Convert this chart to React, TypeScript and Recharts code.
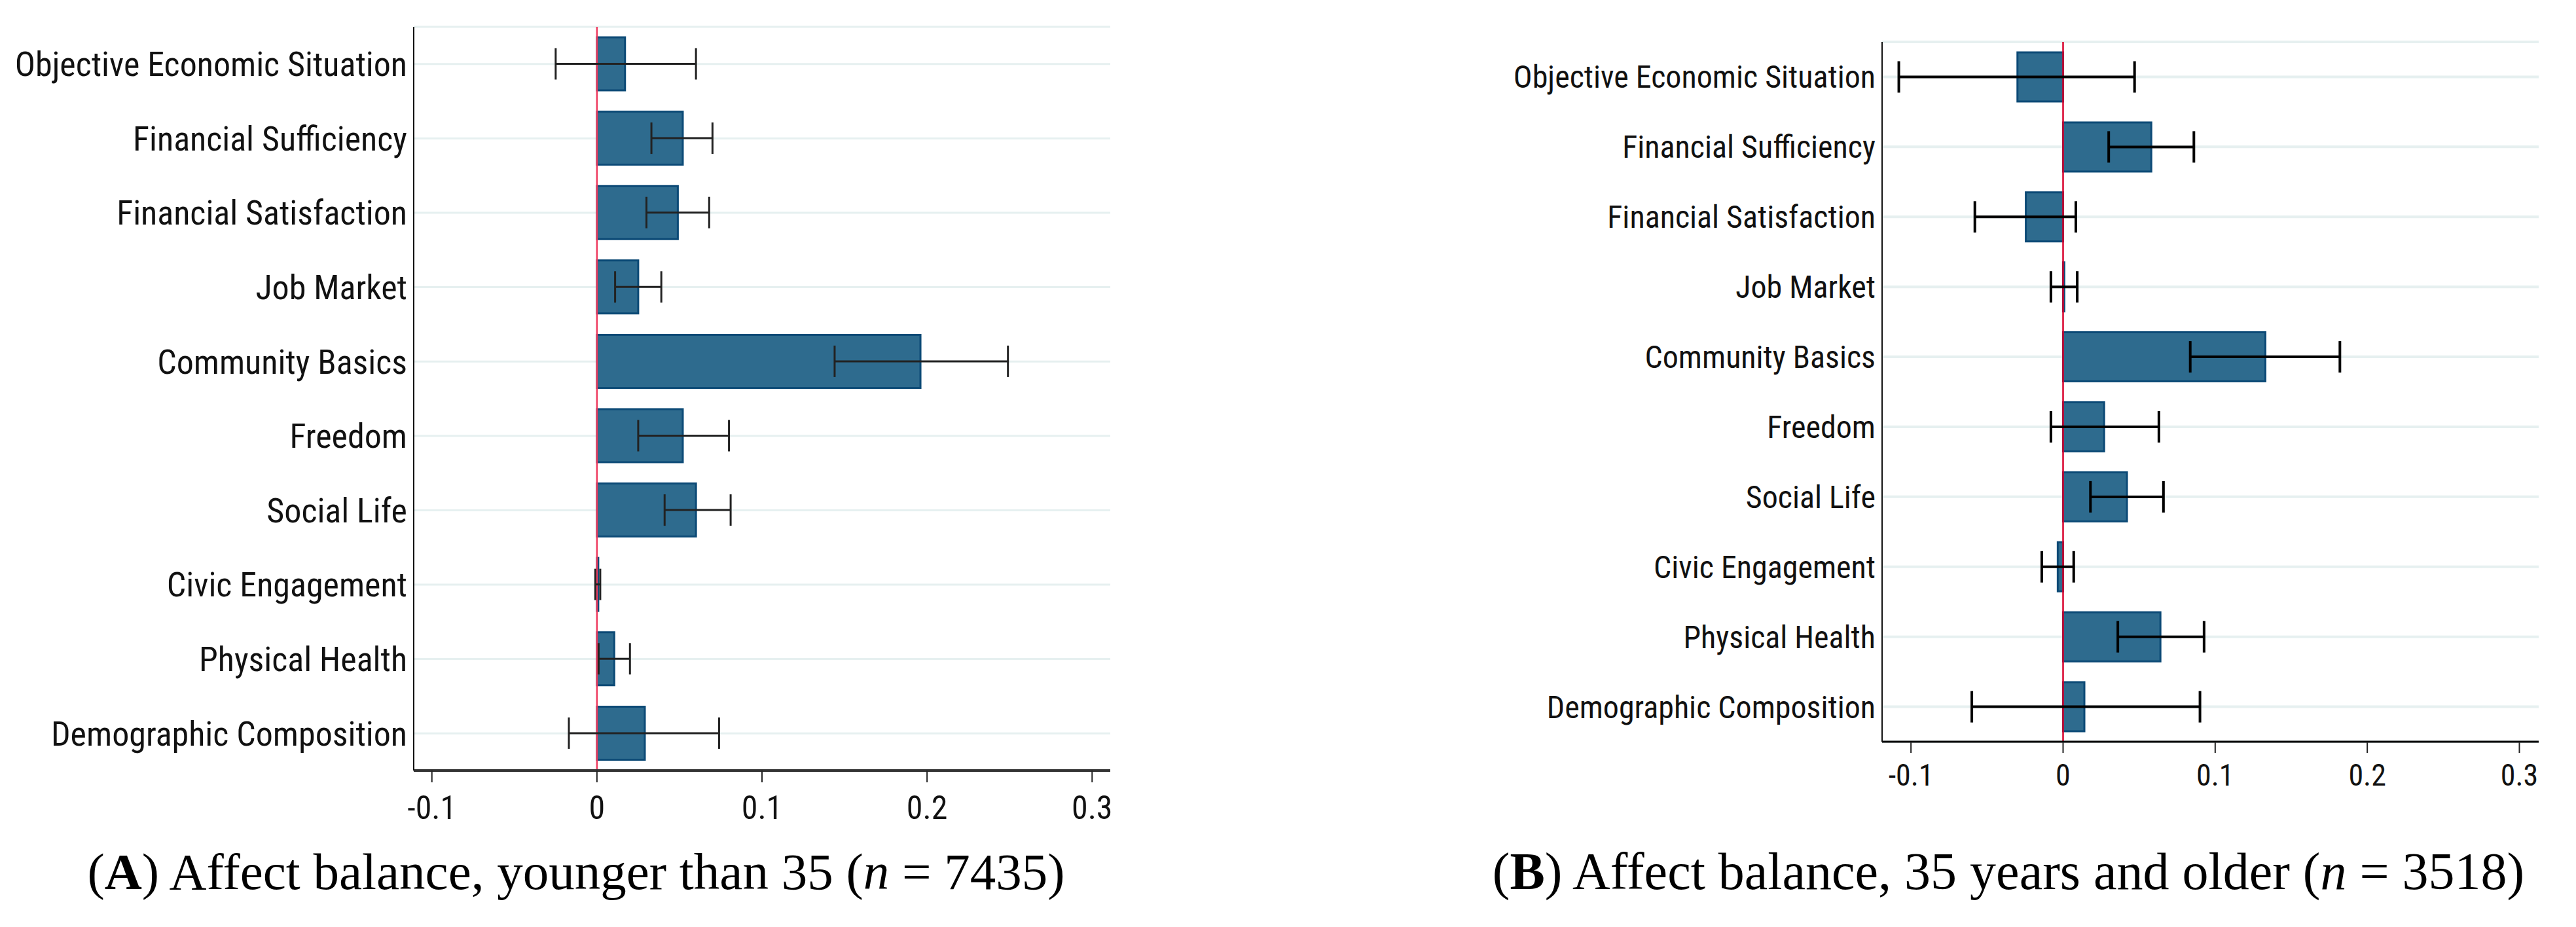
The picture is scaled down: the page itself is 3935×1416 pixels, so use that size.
import React from 'react';
import { BarChart, Bar, XAxis, YAxis, CartesianGrid, ReferenceLine, ErrorBar } from 'recharts';

const categories = [
  'Objective Economic Situation',
  'Financial Sufficiency',
  'Financial Satisfaction',
  'Job Market',
  'Community Basics',
  'Freedom',
  'Social Life',
  'Civic Engagement',
  'Physical Health',
  'Demographic Composition',
];

const youngMean = [0.017, 0.052, 0.049, 0.025, 0.196, 0.052, 0.06, 0.0008, 0.0105, 0.029];
const youngLow = [-0.025, 0.033, 0.03, 0.011, 0.144, 0.025, 0.041, -0.001, 0.001, -0.017];
const youngHigh = [0.06, 0.07, 0.068, 0.039, 0.249, 0.08, 0.081, 0.002, 0.02, 0.074];

const olderMean = [-0.03, 0.058, -0.0245, 0.0008, 0.133, 0.027, 0.042, -0.0035, 0.064, 0.014];
const olderLow = [-0.108, 0.03, -0.058, -0.008, 0.0836, -0.008, 0.018, -0.014, 0.036, -0.06];
const olderHigh = [0.047, 0.086, 0.0084, 0.0093, 0.182, 0.063, 0.066, 0.007, 0.0927, 0.09];

const xTicks = [-0.1, 0, 0.1, 0.2, 0.3];

const buildRows = (mean: number[], low: number[], high: number[]) =>
  categories.map((name, i) => ({
    name,
    value: mean[i],
    err: [mean[i] - low[i], high[i] - mean[i]],
  }));

const youngRows = buildRows(youngMean, youngLow, youngHigh);
const olderRows = buildRows(olderMean, olderLow, olderHigh);

const NARROW = "'Liberation Sans Narrow', 'Arial Narrow', 'Roboto Condensed', 'Liberation Sans', sans-serif";

type PanelProps = {
  rows: any[];
  left: number;
  width: number;
  height: number;
  margin: { top: number; right: number; bottom: number; left: number };
  yWidth: number;
  domain: [number, number];
  barSize: number;
  labelSize: number;
  tickSize: number;
  tickLen: number;
  tickMargin: number;
  xAxisColor: string;
  xAxisWidth: number;
  zeroColor: string;
  errColor: string;
  errWidth: number;
  gridWidth: number;
};

function Panel(p: PanelProps) {
  return (
    <div style={{ position: 'absolute', left: p.left, top: 0 }}>
      <BarChart
        width={p.width}
        height={p.height}
        data={p.rows}
        layout="vertical"
        margin={p.margin}
        barCategoryGap={0}
      >
        <CartesianGrid vertical={false} horizontal={true} stroke="#e6f0f0" strokeWidth={p.gridWidth} />
        <XAxis
          type="number"
          domain={p.domain}
          allowDataOverflow
          ticks={xTicks}
          interval={0}
          height={60}
          tickSize={p.tickLen}
          tickMargin={p.tickMargin}
          tick={{ fill: '#111', fontSize: p.tickSize, fontFamily: NARROW }}
          tickLine={{ stroke: '#222', strokeWidth: 2 }}
          axisLine={{ stroke: p.xAxisColor, strokeWidth: p.xAxisWidth }}
          tickFormatter={(v: number) => (v === 0 ? '0' : String(v))}
        />
        <YAxis
          type="category"
          dataKey="name"
          width={p.yWidth}
          interval={0}
          tickSize={0}
          tickMargin={10}
          tickLine={false}
          tick={{ fill: '#111', fontSize: p.labelSize, fontFamily: NARROW }}
          axisLine={{ stroke: '#111', strokeWidth: 2 }}
        />
        <ReferenceLine x={0} stroke={p.zeroColor} strokeWidth={2.5} />
        <Bar
          dataKey="value"
          fill="#2e6b8e"
          stroke="#0c4a76"
          strokeWidth={3}
          barSize={p.barSize}
          isAnimationActive={false}
        >
          <ErrorBar
            dataKey="err"
            direction="x"
            width={24}
            stroke={p.errColor}
            strokeWidth={p.errWidth}
          />
        </Bar>
      </BarChart>
    </div>
  );
}

export default function App() {
  return (
    <div style={{ position: 'absolute', left: 0, top: 0, width: 3935, height: 1416, background: '#fff' }}>
      <Panel
        rows={youngRows}
        left={0}
        width={1750}
        height={1300}
        margin={{ top: 41, right: 54, bottom: 63, left: 0 }}
        yWidth={632}
        domain={[-0.111, 0.311]}
        barSize={81}
        labelSize={52}
        tickSize={50}
        tickLen={18}
        tickMargin={20}
        xAxisColor="#333"
        xAxisWidth={4}
        zeroColor="#ee3a5e"
        errColor="#222"
        errWidth={3}
        gridWidth={3}
      />
      <Panel
        rows={olderRows}
        left={2200}
        width={1735}
        height={1300}
        margin={{ top: 64, right: 57, bottom: 107, left: 0 }}
        yWidth={675}
        domain={[-0.119, 0.3127]}
        barSize={75}
        labelSize={48}
        tickSize={46}
        tickLen={17}
        tickMargin={17}
        xAxisColor="#000"
        xAxisWidth={3}
        zeroColor="#d8002c"
        errColor="#000"
        errWidth={4}
        gridWidth={4}
      />
      <svg
        width={3935}
        height={1416}
        style={{ position: 'absolute', left: 0, top: 0, pointerEvents: 'none' }}
      >
        <text x={880} y={1358} textAnchor="middle" fontFamily="'Liberation Serif', serif" fontSize={79} fill="#000">
          (<tspan fontWeight="bold">A</tspan>) Affect balance, younger than 35 (<tspan fontStyle="italic">n</tspan> = 7435)
        </text>
        <text x={3068} y={1358} textAnchor="middle" fontFamily="'Liberation Serif', serif" fontSize={80} fill="#000">
          (<tspan fontWeight="bold">B</tspan>) Affect balance, 35 years and older (<tspan fontStyle="italic">n</tspan> = 3518)
        </text>
      </svg>
    </div>
  );
}
